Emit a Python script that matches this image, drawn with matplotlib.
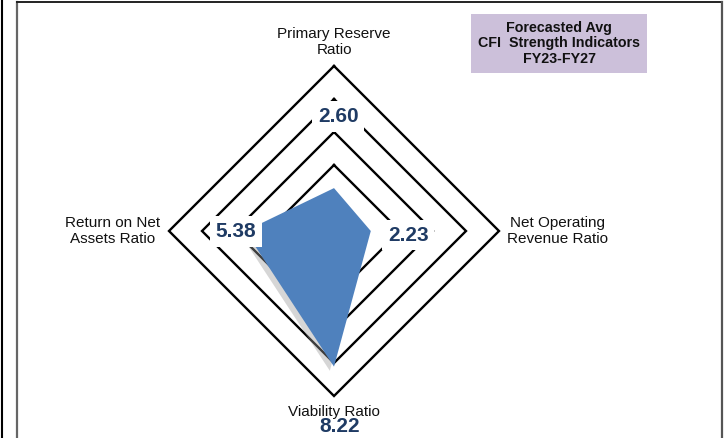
"""Forecasted average CFI strength indicators radar (diamond) chart."""
import matplotlib

matplotlib.use("Agg")
import matplotlib.pyplot as plt  # noqa: E402
import matplotlib.patheffects as pe  # noqa: E402
import numpy as np  # noqa: E402
from matplotlib.lines import Line2D  # noqa: E402

plt.rcParams["font.family"] = ["Liberation Sans", "DejaVu Sans"]

# data, clockwise from the top axis
categories = ["Primary Reserve\nRatio", "Net Operating\nRevenue Ratio",
              "Viability Ratio", "Return on Net\nAssets Ratio"]
values = [2.60, 2.23, 8.22, 5.38]
value_labels = ["2.60", "2.23", "8.22", "5.38"]
rings = [2, 4, 6, 8, 10]
title = "Forecasted Avg\nCFI  Strength Indicators\nFY23-FY27"

W, H, DPI = 726, 438, 100
CX, CY = 334, 231          # centre of the radar, pixels from top-left
S = 16.5                   # pixels per unit
FILL = "#4f81bd"
NAVY = "#1f3b64"
LAVENDER = "#ccc0da"

angles = np.deg2rad([90, 0, -90, 180])


def polar(r, a):
    return r * np.cos(a), r * np.sin(a)


fig = plt.figure(figsize=(W / DPI, H / DPI), dpi=DPI)
ax = fig.add_axes([0, 0, 1, 1])
ax.set_xlim(-CX / S, (W - CX) / S)
ax.set_ylim(-(H - CY) / S, CY / S)
ax.axis("off")

# diamond grid
for r in rings:
    xs, ys = polar(r, np.append(angles, angles[0]))
    ax.plot(xs, ys, color="black", lw=1.7, zorder=1, solid_joinstyle="miter")

# data polygon with a soft drop shadow
xs, ys = polar(np.array(values), angles)
ax.fill(xs, ys, color=FILL, lw=0, zorder=2,
        path_effects=[pe.SimplePatchShadow(offset=(-3, -3), shadow_rgbFace="#999999", alpha=0.4),
                      pe.Normal()])

# category labels
label_r = [11.45, 13.55, 10.95, 13.4]
for cat, a, r in zip(categories, angles, label_r):
    x, y = polar(r, a)
    ax.text(x, y, cat, ha="center", va="center", fontsize=11, linespacing=1.2,
            color="#111111", zorder=4)

# value labels (white boxes mask the grid)
value_pos = [(0.25, 6.95), (4.5, -0.25), (0.35, -11.85), (-5.95, -0.05)]
for i, (lab, (x, y)) in enumerate(zip(value_labels, value_pos)):
    box = None if i == 2 else dict(boxstyle="square,pad=0.28", fc="white", ec="none")
    ax.text(x, y, lab, ha="center", va="center", fontsize=15, fontweight="bold",
            color=NAVY, bbox=box, zorder=5)

# title box
fig.text(559 / W, 1 - 43.5 / H, title, ha="center", va="center", fontsize=10.3,
         fontweight="bold", color="#111111", linespacing=1.15,
         bbox=dict(boxstyle="square,pad=0.5", fc=LAVENDER, ec="none"))


# page frames
def fline(x0, y0, x1, y1, color, lw):
    fig.add_artist(Line2D([x0 / W, x1 / W], [1 - y0 / H, 1 - y1 / H],
                          transform=fig.transFigure, color=color, lw=lw))


fline(2, 0, 2, H, "black", 1.5)
fline(17, H, 17, 2, "#666666", 1.6)
fline(17, 2, 722, 2, "#222222", 1.4)
fline(722, 2, 722, H, "#555555", 1.6)

fig.savefig("out.png", dpi=DPI)
